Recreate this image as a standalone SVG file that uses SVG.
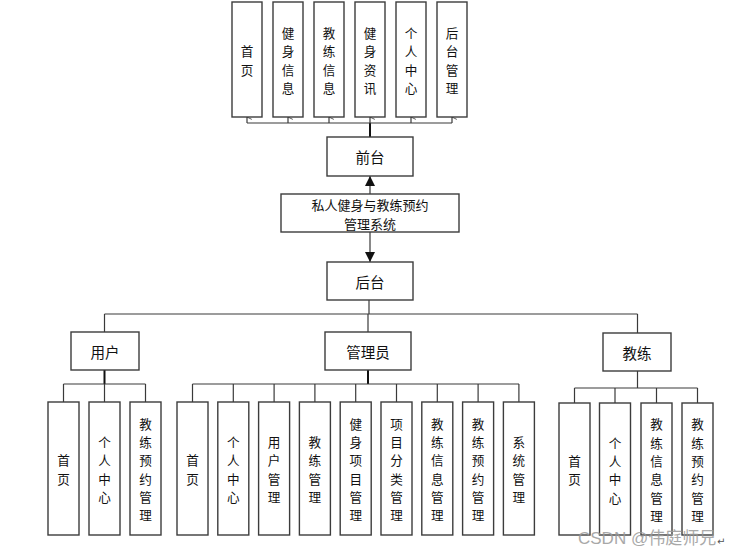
<svg xmlns="http://www.w3.org/2000/svg" width="731" height="554" viewBox="0 0 731 554">
<style>
.box{fill:#fff;stroke:#3c3c3c;stroke-width:1.4}
.t{font-family:"Noto Sans CJK SC","Noto Sans",sans-serif;font-size:14.5px;fill:#111;text-anchor:middle;dominant-baseline:central}
.v{font-family:"Noto Sans CJK SC","Noto Sans",sans-serif;font-size:12.6px;fill:#111;text-anchor:middle;dominant-baseline:central}
.s{font-family:"Noto Sans CJK SC","Noto Sans",sans-serif;font-size:13px;fill:#111;text-anchor:middle;dominant-baseline:central}
.ln{fill:none;stroke:#3a3a3a;stroke-width:1.2}
.thick{fill:none;stroke:#111;stroke-width:2}
.wm{font-family:"Liberation Sans","Noto Sans CJK SC",sans-serif;font-size:17px;fill:#9a9a9a;opacity:0.85}
</style>
<defs>
<marker id="open" viewBox="0 0 10 10" refX="5" refY="1" markerWidth="6" markerHeight="6" orient="auto-start-reverse" markerUnits="userSpaceOnUse">
<path d="M1,9 L5,1 L9,9" fill="none" stroke="#3a3a3a" stroke-width="1.4"/>
</marker>
<marker id="fill" viewBox="0 0 10 10" refX="10" refY="5" markerWidth="10" markerHeight="10" orient="auto" markerUnits="userSpaceOnUse">
<path d="M0,0 L10,5 L0,10 Z" fill="#111"/>
</marker>
</defs>
<rect width="731" height="554" fill="#fff"/>

<g id="connectors">
<line class="thick" x1="370" y1="137" x2="370" y2="123"/>
<line class="ln" x1="247" y1="123" x2="452" y2="123"/>
<line class="ln" x1="247" y1="123" x2="247" y2="117" marker-end="url(#open)"/>
<line class="ln" x1="288" y1="123" x2="288" y2="117" marker-end="url(#open)"/>
<line class="ln" x1="329" y1="123" x2="329" y2="117" marker-end="url(#open)"/>
<line class="ln" x1="370" y1="123" x2="370" y2="117" marker-end="url(#open)"/>
<line class="ln" x1="411" y1="123" x2="411" y2="117" marker-end="url(#open)"/>
<line class="ln" x1="452" y1="123" x2="452" y2="117" marker-end="url(#open)"/>
<line class="ln" x1="370" y1="194" x2="370" y2="176" marker-end="url(#fill)"/>
<line class="ln" x1="370" y1="232" x2="370" y2="262" marker-end="url(#fill)"/>
<line class="ln" x1="369" y1="300" x2="369" y2="314"/>
<line class="ln" x1="104.5" y1="314" x2="637.5" y2="314"/>
<line class="ln" x1="104.5" y1="314" x2="104.5" y2="332"/>
<line class="ln" x1="368" y1="314" x2="368" y2="332"/>
<line class="ln" x1="637.5" y1="314" x2="637.5" y2="333"/>
<line class="thick" x1="104.5" y1="370" x2="104.5" y2="384"/>
<line class="ln" x1="63.5" y1="384" x2="145.5" y2="384"/>
<line class="ln" x1="63.5" y1="384" x2="63.5" y2="402"/>
<line class="ln" x1="104.5" y1="384" x2="104.5" y2="402"/>
<line class="ln" x1="145.5" y1="384" x2="145.5" y2="402"/>
<line class="thick" x1="368" y1="370" x2="368" y2="384"/>
<line class="ln" x1="192.5" y1="384" x2="519" y2="384"/>
<line class="ln" x1="192.5" y1="384" x2="192.5" y2="402"/>
<line class="ln" x1="233.3" y1="384" x2="233.3" y2="402"/>
<line class="ln" x1="274.1" y1="384" x2="274.1" y2="402"/>
<line class="ln" x1="314.9" y1="384" x2="314.9" y2="402"/>
<line class="ln" x1="355.7" y1="384" x2="355.7" y2="402"/>
<line class="ln" x1="396.5" y1="384" x2="396.5" y2="402"/>
<line class="ln" x1="437.3" y1="384" x2="437.3" y2="402"/>
<line class="ln" x1="478.1" y1="384" x2="478.1" y2="402"/>
<line class="ln" x1="518.9" y1="384" x2="518.9" y2="402"/>
<line class="ln" x1="637.5" y1="371" x2="637.5" y2="388"/>
<line class="ln" x1="574.5" y1="388" x2="697.5" y2="388"/>
<line class="ln" x1="574.5" y1="388" x2="574.5" y2="403"/>
<line class="ln" x1="615" y1="388" x2="615" y2="403"/>
<line class="ln" x1="656.5" y1="388" x2="656.5" y2="403"/>
<line class="ln" x1="697.5" y1="388" x2="697.5" y2="403"/>
</g>

<g id="f-home"><rect class="box" x="232" y="2" width="30" height="115"/>
<text class="v"><tspan x="247" y="50.4">首</tspan><tspan x="247" y="68.7">页</tspan></text></g>
<g id="f-fitinfo"><rect class="box" x="273" y="2" width="30" height="115"/>
<text class="v"><tspan x="288" y="32">健</tspan><tspan x="288" y="50.4">身</tspan><tspan x="288" y="68.7">信</tspan><tspan x="288" y="87">息</tspan></text></g>
<g id="f-coachinfo"><rect class="box" x="314" y="2" width="30" height="115"/>
<text class="v"><tspan x="329" y="32">教</tspan><tspan x="329" y="50.4">练</tspan><tspan x="329" y="68.7">信</tspan><tspan x="329" y="87">息</tspan></text></g>
<g id="f-news"><rect class="box" x="355" y="2" width="30" height="115"/>
<text class="v"><tspan x="370" y="32">健</tspan><tspan x="370" y="50.4">身</tspan><tspan x="370" y="68.7">资</tspan><tspan x="370" y="87">讯</tspan></text></g>
<g id="f-center"><rect class="box" x="396" y="2" width="30" height="115"/>
<text class="v"><tspan x="411" y="32">个</tspan><tspan x="411" y="50.4">人</tspan><tspan x="411" y="68.7">中</tspan><tspan x="411" y="87">心</tspan></text></g>
<g id="f-admin"><rect class="box" x="437" y="2" width="30" height="115"/>
<text class="v"><tspan x="452" y="32">后</tspan><tspan x="452" y="50.4">台</tspan><tspan x="452" y="68.7">管</tspan><tspan x="452" y="87">理</tspan></text></g>

<g id="front"><rect class="box" x="327" y="137" width="86" height="39"/>
<text class="t" x="370" y="156.5">前台</text></g>

<g id="system"><rect class="box" x="281" y="194" width="178" height="38"/>
<text class="s"><tspan x="370" y="203.5">私人健身与教练预约</tspan><tspan x="370" y="222.5">管理系统</tspan></text></g>

<g id="back"><rect class="box" x="327" y="262" width="86" height="38"/>
<text class="t" x="370" y="281">后台</text></g>

<g id="user"><rect class="box" x="71" y="332" width="68" height="38"/>
<text class="t" x="105" y="351">用户</text></g>
<g id="manager"><rect class="box" x="325" y="332" width="86" height="38"/>
<text class="t" x="368" y="351">管理员</text></g>
<g id="coach"><rect class="box" x="603" y="333" width="68" height="38"/>
<text class="t" x="637" y="352">教练</text></g>

<g id="u-home"><rect class="box" x="48" y="402" width="31" height="133"/>
<text class="v"><tspan x="63.5" y="459.4">首</tspan><tspan x="63.5" y="477.7">页</tspan></text></g>
<g id="u-center"><rect class="box" x="89" y="402" width="31" height="133"/>
<text class="v"><tspan x="104.5" y="441">个</tspan><tspan x="104.5" y="459.4">人</tspan><tspan x="104.5" y="477.7">中</tspan><tspan x="104.5" y="496">心</tspan></text></g>
<g id="u-booking"><rect class="box" x="130" y="402" width="31" height="133"/>
<text class="v"><tspan x="145.5" y="422.8">教</tspan><tspan x="145.5" y="441">练</tspan><tspan x="145.5" y="459.4">预</tspan><tspan x="145.5" y="477.7">约</tspan><tspan x="145.5" y="496">管</tspan><tspan x="145.5" y="514.3">理</tspan></text></g>

<g id="m-home"><rect class="box" x="177" y="402" width="31" height="133"/>
<text class="v"><tspan x="192.5" y="459.4">首</tspan><tspan x="192.5" y="477.7">页</tspan></text></g>
<g id="m-center"><rect class="box" x="217.8" y="402" width="31" height="133"/>
<text class="v"><tspan x="233.3" y="441">个</tspan><tspan x="233.3" y="459.4">人</tspan><tspan x="233.3" y="477.7">中</tspan><tspan x="233.3" y="496">心</tspan></text></g>
<g id="m-users"><rect class="box" x="258.6" y="402" width="31" height="133"/>
<text class="v"><tspan x="274.1" y="441">用</tspan><tspan x="274.1" y="459.4">户</tspan><tspan x="274.1" y="477.7">管</tspan><tspan x="274.1" y="496">理</tspan></text></g>
<g id="m-coaches"><rect class="box" x="299.4" y="402" width="31" height="133"/>
<text class="v"><tspan x="314.9" y="441">教</tspan><tspan x="314.9" y="459.4">练</tspan><tspan x="314.9" y="477.7">管</tspan><tspan x="314.9" y="496">理</tspan></text></g>
<g id="m-projects"><rect class="box" x="340.2" y="402" width="31" height="133"/>
<text class="v"><tspan x="355.7" y="422.8">健</tspan><tspan x="355.7" y="441">身</tspan><tspan x="355.7" y="459.4">项</tspan><tspan x="355.7" y="477.7">目</tspan><tspan x="355.7" y="496">管</tspan><tspan x="355.7" y="514.3">理</tspan></text></g>
<g id="m-categories"><rect class="box" x="381" y="402" width="31" height="133"/>
<text class="v"><tspan x="396.5" y="422.8">项</tspan><tspan x="396.5" y="441">目</tspan><tspan x="396.5" y="459.4">分</tspan><tspan x="396.5" y="477.7">类</tspan><tspan x="396.5" y="496">管</tspan><tspan x="396.5" y="514.3">理</tspan></text></g>
<g id="m-coachinfo"><rect class="box" x="421.8" y="402" width="31" height="133"/>
<text class="v"><tspan x="437.3" y="422.8">教</tspan><tspan x="437.3" y="441">练</tspan><tspan x="437.3" y="459.4">信</tspan><tspan x="437.3" y="477.7">息</tspan><tspan x="437.3" y="496">管</tspan><tspan x="437.3" y="514.3">理</tspan></text></g>
<g id="m-booking"><rect class="box" x="462.6" y="402" width="31" height="133"/>
<text class="v"><tspan x="478.1" y="422.8">教</tspan><tspan x="478.1" y="441">练</tspan><tspan x="478.1" y="459.4">预</tspan><tspan x="478.1" y="477.7">约</tspan><tspan x="478.1" y="496">管</tspan><tspan x="478.1" y="514.3">理</tspan></text></g>
<g id="m-system"><rect class="box" x="503.4" y="402" width="31" height="133"/>
<text class="v"><tspan x="518.9" y="441">系</tspan><tspan x="518.9" y="459.4">统</tspan><tspan x="518.9" y="477.7">管</tspan><tspan x="518.9" y="496">理</tspan></text></g>

<g id="c-home"><rect class="box" x="559" y="403" width="31" height="132"/>
<text class="v"><tspan x="574.5" y="459.9">首</tspan><tspan x="574.5" y="478.2">页</tspan></text></g>
<g id="c-center"><rect class="box" x="599.5" y="403" width="31" height="132"/>
<text class="v"><tspan x="615" y="441.5">个</tspan><tspan x="615" y="459.9">人</tspan><tspan x="615" y="478.2">中</tspan><tspan x="615" y="496.5">心</tspan></text></g>
<g id="c-coachinfo"><rect class="box" x="641" y="403" width="31" height="132"/>
<text class="v"><tspan x="656.5" y="423.3">教</tspan><tspan x="656.5" y="441.5">练</tspan><tspan x="656.5" y="459.9">信</tspan><tspan x="656.5" y="478.2">息</tspan><tspan x="656.5" y="496.5">管</tspan><tspan x="656.5" y="514.8">理</tspan></text></g>
<g id="c-booking"><rect class="box" x="682" y="403" width="31" height="132"/>
<text class="v"><tspan x="697.5" y="423.3">教</tspan><tspan x="697.5" y="441.5">练</tspan><tspan x="697.5" y="459.9">预</tspan><tspan x="697.5" y="478.2">约</tspan><tspan x="697.5" y="496.5">管</tspan><tspan x="697.5" y="514.8">理</tspan></text></g>

<text class="wm" x="578" y="544">CSDN @伟庭师兄</text>
<text x="717" y="545" style="font-family:'DejaVu Sans',sans-serif;font-size:10px;fill:#555">↵</text>
</svg>
